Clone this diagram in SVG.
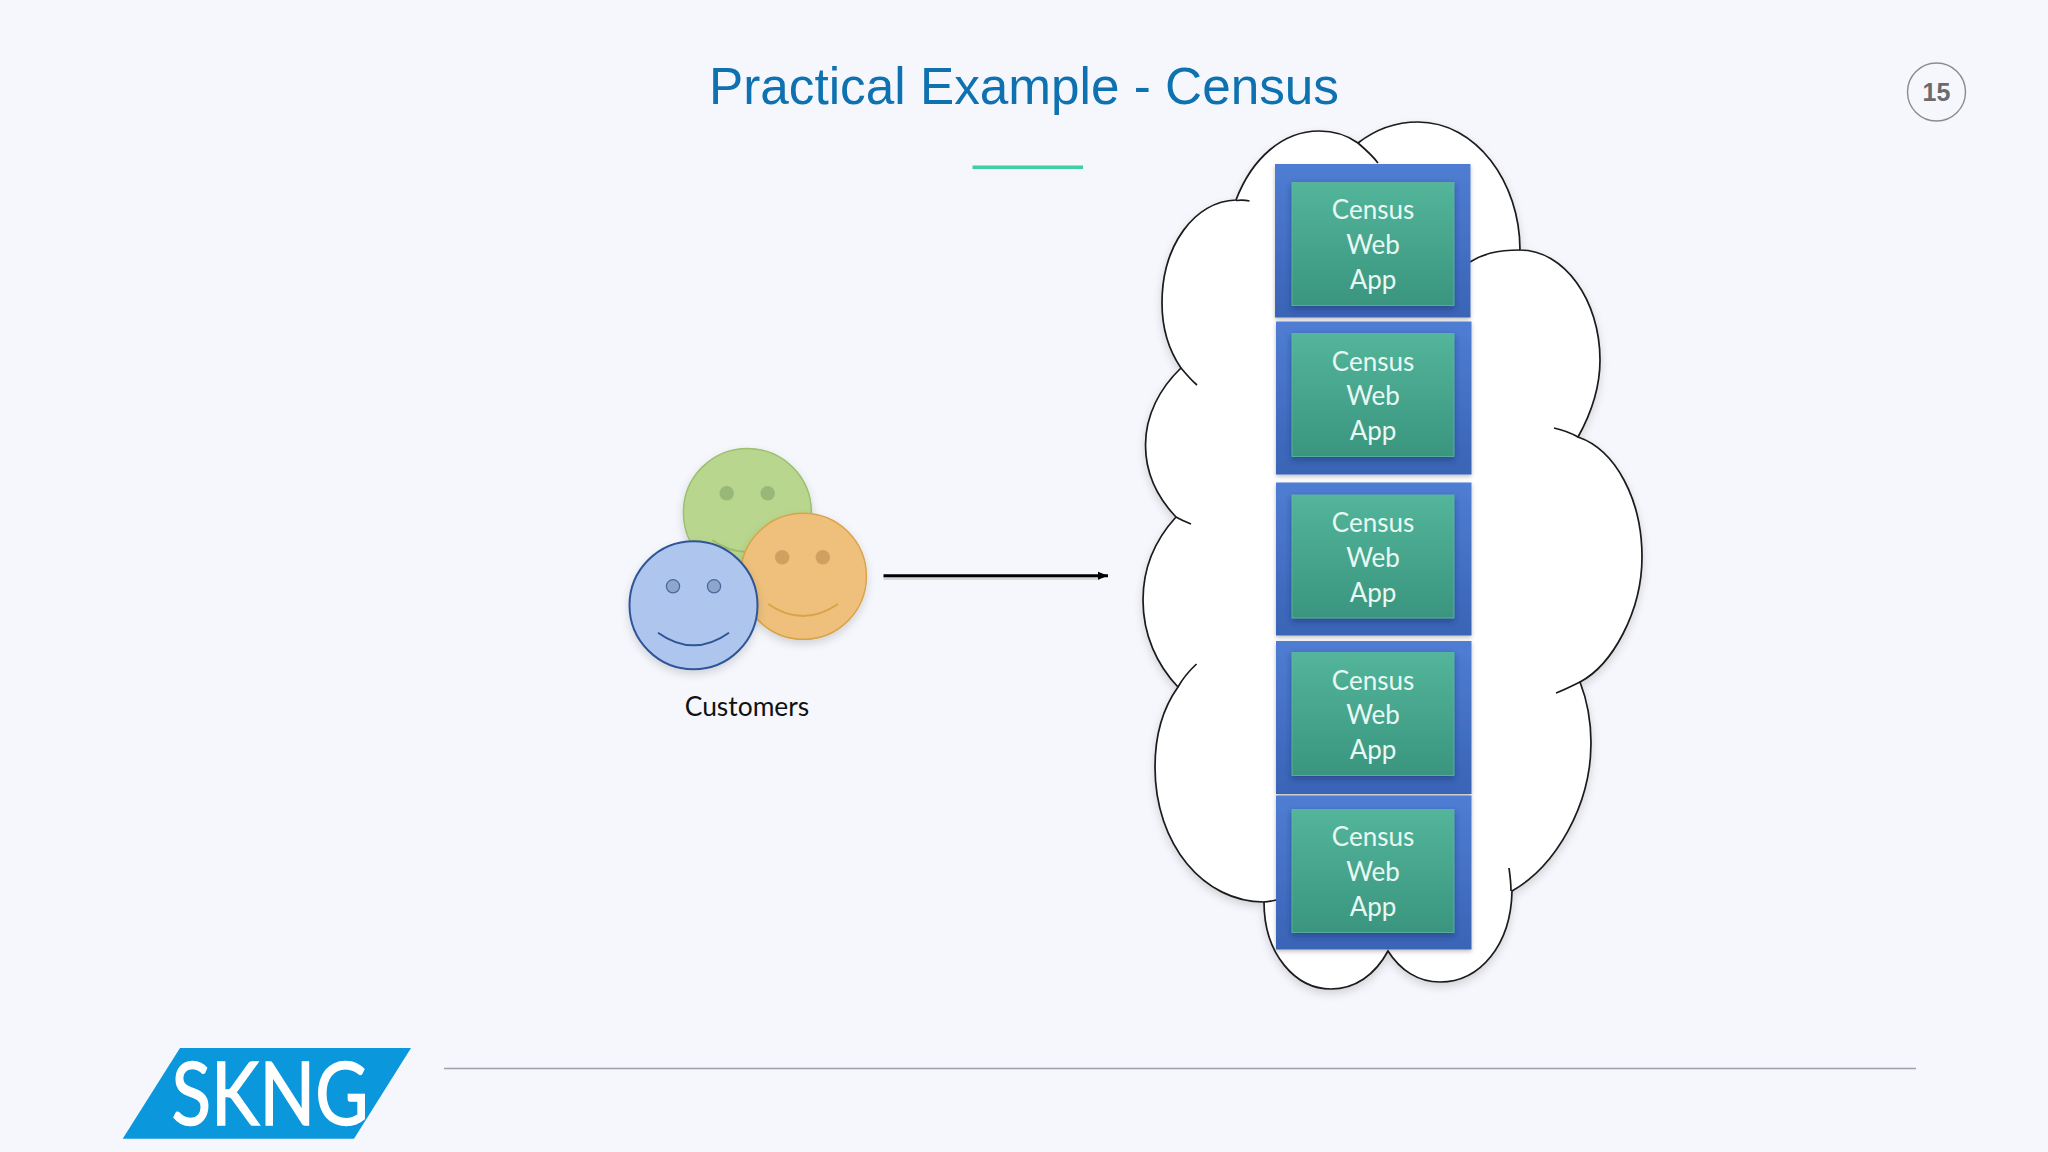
<svg xmlns="http://www.w3.org/2000/svg" width="2048" height="1152" viewBox="0 0 2048 1152">
<style>
.bg{fill:#f6f7fd}
.outer{fill:url(#blueG);filter:url(#sh)}
.inner{fill:url(#greenG);stroke:#5cb89f;stroke-width:.8;filter:url(#shb)}
.lbl{font-family:"Lato","Liberation Sans",sans-serif;font-size:26px;fill:#e8f8f2;text-anchor:middle}
.tail{fill:none;stroke:#1a1a1a;stroke-width:1.7}
.smile{fill:none;stroke-width:2}
</style>
<defs>
<linearGradient id="blueG" x1="0" y1="0" x2="0" y2="1"><stop offset="0" stop-color="#4f7dd3"/><stop offset="1" stop-color="#3a64b6"/></linearGradient>
<linearGradient id="greenG" x1="0" y1="0" x2="0" y2="1"><stop offset="0" stop-color="#53b59a"/><stop offset="1" stop-color="#3a957f"/></linearGradient>
<filter id="sh" x="-10%" y="-10%" width="120%" height="120%"><feDropShadow dx="0" dy="2" stdDeviation="2" flood-color="#000" flood-opacity=".25"/></filter>
<filter id="shb" x="-10%" y="-10%" width="120%" height="120%"><feDropShadow dx="0" dy="3" stdDeviation="3" flood-color="#102a60" flood-opacity=".5"/></filter>
<filter id="shc" x="-10%" y="-10%" width="120%" height="120%"><feDropShadow dx="0" dy="4" stdDeviation="4" flood-color="#000" flood-opacity=".15"/></filter>
<marker id="arr" markerUnits="userSpaceOnUse" markerWidth="11" markerHeight="10" refX="10" refY="5" orient="auto"><path d="M0,1 L10,5 L0,9 Z" fill="#000"/></marker>
</defs>
<rect class="bg" x="0" y="0" width="2048" height="1152"/>
<text id="title" x="1024" y="103.5" text-anchor="middle" font-family="'Liberation Sans',Arial,sans-serif" font-size="51.3px" fill="#0f72b0">Practical Example - Census</text>
<rect id="title-rule" x="972.5" y="165.5" width="110.5" height="3.5" fill="#3fcfa3"/>
<g id="page-number">
<circle cx="1936.5" cy="92" r="29" fill="none" stroke="#8c8c8c" stroke-width="1.4"/>
<text x="1936.5" y="101" text-anchor="middle" font-family="'Liberation Sans',Arial,sans-serif" font-weight="700" font-size="25px" fill="#6b6b6b">15</text>
</g>
<g id="cloud">
<path filter="url(#shc)" fill="#fff" stroke="#1a1a1a" stroke-width="1.7" d="M1236,200 C1252,158 1283,131 1319,131 C1333,131 1347,135 1358,143 C1376,129 1396,122 1418,122 C1476,122 1520,182 1520,250 C1564,250 1600,300 1600,360 C1600,388 1592,412 1578,437 C1616,450 1642,500 1642,557 C1642,612 1612,665 1580,682 C1587,700 1591,720 1591,743 C1591,805 1556,866 1512,891 C1511,945 1480,982 1440,982 C1418,982 1400,970 1388,951 C1375,975 1355,989 1331,989 C1296,989 1264,955 1264,902 C1204,902 1155,845 1155,767 C1155,735 1163,708 1178,687 C1157,665 1143,635 1143,600 C1143,568 1155,540 1176,517 C1157,497 1145.5,472 1145.5,445 C1145.5,415 1160,388 1181,368 C1170,352 1162,330 1162,303 C1162,245 1195,201 1236,200 Z"/>
<path class="tail" d="M1358,143 C1365,149 1372,155 1378,163"/>
<path class="tail" d="M1470,262 C1483,254 1496,250 1520,250"/>
<path class="tail" d="M1554,428 C1563,430 1571,433 1578,437"/>
<path class="tail" d="M1580,682 C1572,686 1564,690 1556,693"/>
<path class="tail" d="M1509,868 C1510,875 1511,883 1511,891"/>
<path class="tail" d="M1264,902 C1268,902 1272,901 1276,900"/>
<path class="tail" d="M1178,687 C1183,678 1189,671 1196.5,664"/>
<path class="tail" d="M1176,517 C1181,520 1186,522 1191,524"/>
<path class="tail" d="M1181,368 C1186,374 1191,380 1197,385"/>
<path class="tail" d="M1236,200.5 C1240,200 1245,200 1249.5,201"/>
</g>
<g id="app-1">
<rect class="outer" x="1275" y="164" width="195.5" height="153.5"/>
<rect class="inner" x="1292" y="182.5" width="162" height="123"/>
<text class="lbl" x="1373" y="218.5">Census</text><text class="lbl" x="1373" y="253.5">Web</text><text class="lbl" x="1373" y="288.5">App</text>
</g>
<g id="app-2">
<rect class="outer" x="1276" y="321.5" width="195.5" height="153"/>
<rect class="inner" x="1292" y="333.5" width="162" height="123"/>
<text class="lbl" x="1373" y="370.5">Census</text><text class="lbl" x="1373" y="405">Web</text><text class="lbl" x="1373" y="440">App</text>
</g>
<g id="app-3">
<rect class="outer" x="1276" y="482.5" width="195.5" height="153"/>
<rect class="inner" x="1292" y="495" width="162" height="123"/>
<text class="lbl" x="1373" y="532">Census</text><text class="lbl" x="1373" y="567">Web</text><text class="lbl" x="1373" y="601.5">App</text>
</g>
<g id="app-4">
<rect class="outer" x="1276" y="641" width="195.5" height="153"/>
<rect class="inner" x="1292" y="652.5" width="162" height="123"/>
<text class="lbl" x="1373" y="689.5">Census</text><text class="lbl" x="1373" y="724">Web</text><text class="lbl" x="1373" y="759">App</text>
</g>
<g id="app-5">
<rect class="outer" x="1276" y="795.5" width="195.5" height="154"/>
<rect class="inner" x="1292" y="809.5" width="162" height="123"/>
<text class="lbl" x="1373" y="846">Census</text><text class="lbl" x="1373" y="881">Web</text><text class="lbl" x="1373" y="916">App</text>
</g>
<g id="customers">
<g id="face-green" filter="url(#shc)">
<circle cx="747.4" cy="512.4" r="64" fill="#b9d68e" stroke="#9cc06e" stroke-width="1.5"/>
<circle cx="726.7" cy="493.3" r="7.2" fill="#98b878"/><circle cx="767.7" cy="493.3" r="7.2" fill="#98b878"/>
<path class="smile" stroke="#9cc06e" d="M712,540 Q747,564 782,540"/>
</g>
<g id="face-orange" filter="url(#shc)">
<circle cx="803.4" cy="576.3" r="63" fill="#eec07c" stroke="#d9a449" stroke-width="1.5"/>
<circle cx="782.2" cy="557.3" r="7.2" fill="#cfa060"/><circle cx="822.8" cy="557.3" r="7.2" fill="#cfa060"/>
<path class="smile" stroke="#d9a449" d="M768,604 Q803,628 838,604"/>
</g>
<g id="face-blue" filter="url(#shc)">
<circle cx="693.5" cy="605.2" r="64" fill="#aec6ee" stroke="#2f5597" stroke-width="2"/>
<circle cx="673" cy="586.3" r="6.6" fill="#8ea5cc" stroke="#4a6a9f" stroke-width="1.3"/><circle cx="714" cy="586.3" r="6.6" fill="#8ea5cc" stroke="#4a6a9f" stroke-width="1.3"/>
<path class="smile" stroke="#2f5597" d="M658,632.7 Q693.5,658 729,632.7"/>
</g>
<text x="747" y="716" text-anchor="middle" font-family="'Lato','Liberation Sans',sans-serif" font-size="26.4px" fill="#111">Customers</text>
</g>
<g id="connectors">
<line x1="883.5" y1="578" x2="1100" y2="578" stroke="#000" stroke-opacity=".13" stroke-width="4"/>
<line x1="883.5" y1="575.7" x2="1108" y2="575.7" stroke="#000" stroke-width="3" marker-end="url(#arr)"/>
</g>
<g id="footer">
<line x1="444" y1="1068.5" x2="1916" y2="1068.5" stroke="#a0a0a8" stroke-width="1.4"/>
<polygon points="180,1048 411,1048 354,1138.7 122.7,1138.7" fill="#0a97dc"/>
<text x="171.5" y="1125" font-family="'Lato','Liberation Sans',sans-serif" font-size="88px" fill="#fff" stroke="#fff" stroke-width="1.5" textLength="197" lengthAdjust="spacingAndGlyphs">SKNG</text>
</g>
</svg>
